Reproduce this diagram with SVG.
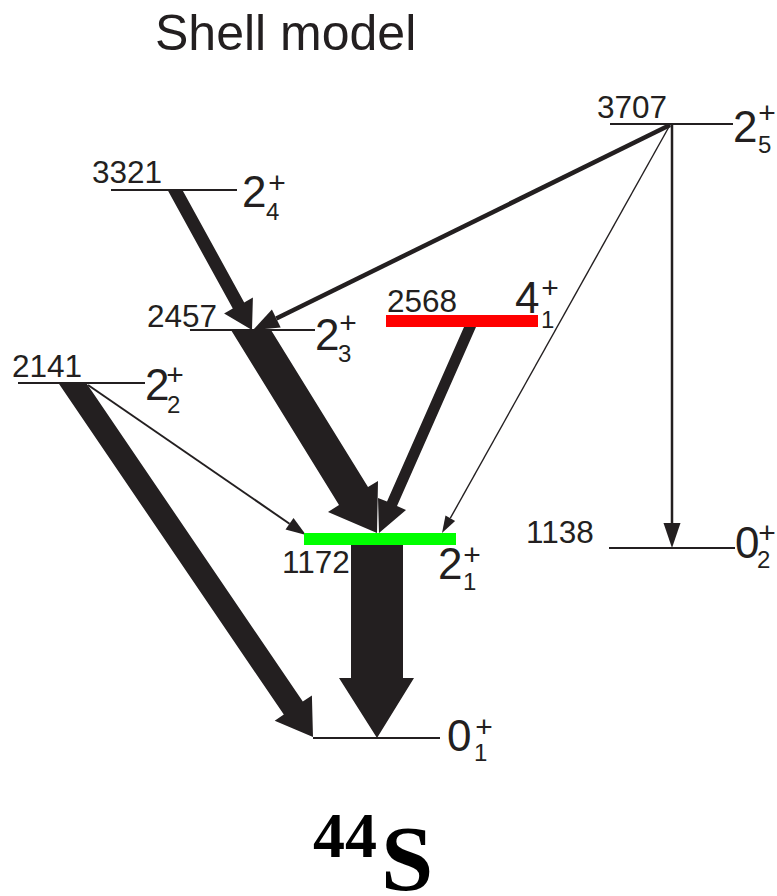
<svg xmlns="http://www.w3.org/2000/svg" width="777" height="896" viewBox="0 0 777 896">
<style>
.lvl{stroke:#231f20;stroke-width:2.2;fill:none}
.en{font-family:"Liberation Sans",Arial,sans-serif;font-size:31.5px;fill:#231f20}
.jp{font-family:"Liberation Sans",Arial,sans-serif;font-size:44px;fill:#231f20}
.sub{font-family:"Liberation Sans",Arial,sans-serif;font-size:24px;fill:#231f20}
.pl{font-family:"Liberation Sans",Arial,sans-serif;font-size:30px;fill:#231f20;text-anchor:middle}
.fat{fill:#231f20;stroke:none}
.ln{stroke:#231f20;fill:none}
</style>
<rect width="777" height="896" fill="#ffffff"/>
<text x="155" y="50" font-family="'Liberation Sans',Arial,sans-serif" font-size="50" fill="#231f20">Shell model</text>

<g id="connectors">
  <!-- 3707 -> 2457 -->
  <line class="ln" x1="670" y1="125" x2="276.3" y2="318.5" stroke-width="4.5"/>
  <polygon class="fat" points="280.7,327.5 253,330 271.9,309.5"/>
  <!-- 3707 -> 1172 thin -->
  <line class="ln" x1="670" y1="125" x2="450.3" y2="518.2" stroke-width="1.4"/>
  <polygon class="fat" points="455.1,520.9 442,533 445.5,515.5"/>
  <!-- 3707 -> 1138 -->
  <line class="ln" x1="672" y1="125" x2="672" y2="526" stroke-width="2.5"/>
  <polygon class="fat" points="663.5,523 680.5,523 672,548"/>
  <!-- 2141 -> 1172 thin -->
  <line class="ln" x1="88" y1="385" x2="289.5" y2="523.7" stroke-width="2"/>
  <polygon class="fat" points="285.5,529.5 306,535 293.5,517.9"/>
  <!-- 3321 -> 2457 -->
  <polygon class="fat" points="167.6,190 182.4,190 244.2,302.4 252.9,297.6 252,330 224.1,313.4 232.8,308.6"/>
  <!-- 2457 -> 1172 -->
  <polygon class="fat" points="231,330 271,330 368,487 378,481 377,533 328,512 339,505"/>
  <!-- 2568 -> 1172 -->
  <polygon class="fat" points="464,327 476,327 397,506 406,510 379,533 378,498 387,501.5"/>
  <!-- 2141 -> 0 -->
  <polygon class="fat" points="58.4,383 86.3,383 302.8,701.6 311.9,695.5 313,737 274.7,720.7 283.8,714.6"/>
  <!-- 1172 -> 0 -->
  <polygon class="fat" points="351,545 403,545 403,678 414,678 377,738 339,678 351,678"/>
</g>

<g id="lvl3707">
  <line class="lvl" x1="610" y1="124" x2="733" y2="124"/>
  <text class="en" x="597" y="118">3707</text>
  <text class="jp" x="733" y="142">2</text><text class="sub" x="758" y="153">5</text><text class="pl" x="767" y="123">+</text>
</g>
<g id="lvl3321">
  <line class="lvl" x1="111" y1="190" x2="237" y2="190"/>
  <text class="en" x="92" y="183">3321</text>
  <text class="jp" x="242" y="207">2</text><text class="sub" x="266" y="220">4</text><text class="pl" x="277" y="193">+</text>
</g>
<g id="lvl2457">
  <line class="lvl" x1="190" y1="330" x2="315" y2="330"/>
  <text class="en" x="147" y="327">2457</text>
  <text class="jp" x="315" y="350">2</text><text class="sub" x="338" y="362">3</text><text class="pl" x="348" y="333">+</text>
</g>
<g id="lvl2568">
  <rect x="386" y="315" width="152" height="12" fill="#ff0000"/>
  <text class="en" x="387" y="312">2568</text>
  <text class="jp" x="515" y="313">4</text><text class="sub" x="541" y="328">1</text><text class="pl" x="550" y="298">+</text>
</g>
<g id="lvl2141">
  <line class="lvl" x1="18" y1="383" x2="145" y2="383"/>
  <text class="en" x="12" y="377">2141</text>
  <text class="jp" x="145" y="400">2</text><text class="sub" x="167" y="413">2</text><text class="pl" x="175" y="385">+</text>
</g>
<g id="lvl1172">
  <rect x="304" y="533" width="152" height="12" fill="#00ff00"/>
  <text class="en" x="282" y="573">1172</text>
  <text class="jp" x="438" y="579">2</text><text class="sub" x="463" y="590">1</text><text class="pl" x="472" y="565">+</text>
</g>
<g id="lvl1138">
  <line class="lvl" x1="609" y1="548" x2="735" y2="548"/>
  <text class="en" x="526" y="543">1138</text>
  <text class="jp" x="735" y="558">0</text><text class="sub" x="757" y="568">2</text><text class="pl" x="767" y="543">+</text>
</g>
<g id="lvl0">
  <line class="lvl" x1="313" y1="738" x2="440" y2="738"/>
  <text class="jp" x="447" y="751">0</text><text class="sub" x="474" y="761">1</text><text class="pl" x="484" y="737">+</text>
</g>
<g id="nucleus">
  <text x="313" y="857" font-family="'Liberation Serif','Times New Roman',serif" font-weight="bold" font-size="64" fill="#000">44</text>
  <text x="381" y="890" font-family="'Liberation Serif','Times New Roman',serif" font-weight="bold" font-size="94" fill="#000">S</text>
</g>
</svg>
